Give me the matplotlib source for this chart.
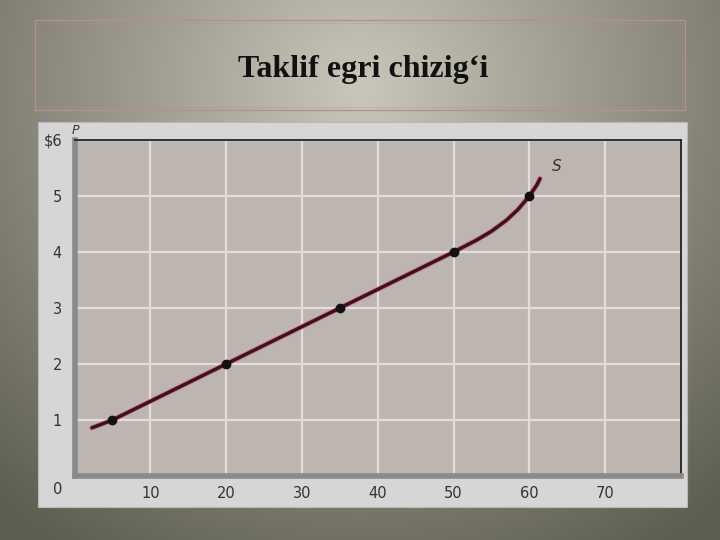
import numpy as np
import matplotlib.pyplot as plt
from matplotlib.patches import Rectangle
import matplotlib.patheffects as pe

# Taklif egri chizig'i - ma'lumotlar (rasmdan o'qilgan)
curve_q = [2.3, 5, 20, 35, 50, 53, 55, 57, 58.5, 60, 61, 61.4]
curve_p = [0.86, 1, 2, 3, 4, 4.21, 4.37, 4.57, 4.76, 5, 5.2, 5.31]
point_q = [5, 20, 35, 50, 60]
point_p = [1, 2, 3, 4, 5]
x_ticks = [10, 20, 30, 40, 50, 60, 70]
y_ticks = [1, 2, 3, 4, 5, 6]
y_labels = ['1', '2', '3', '4', '5', '$6']

W, H = 720, 540
fig = plt.figure(figsize=(7.2, 5.4), dpi=100)

# fon: radial gradient
bg = fig.add_axes([0, 0, 1, 1])
yy, xx = np.mgrid[0:H, 0:W]
r = np.sqrt(((xx - 360) / 540.0) ** 2 + ((yy - 90) / 540.0) ** 2)
r = np.clip(r, 0, 1)
light = np.array([0.79, 0.78, 0.73])
dark = np.array([0.37, 0.37, 0.32])
img = light[None, None, :] * (1 - r[..., None]) + dark[None, None, :] * r[..., None]
bg.imshow(img, extent=[0, W, H, 0], aspect='auto')
bg.set_xlim(0, W)
bg.set_ylim(H, 0)
bg.axis('off')

# sarlavha ramkasi
bg.add_patch(Rectangle((35, 20), 650, 90, fill=False, edgecolor='#b3928a', lw=1.0))
bg.add_patch(Rectangle((38, 23), 644, 84, fill=False, edgecolor='#b3928a', lw=0.6, alpha=0.4))
bg.text(363, 70, 'Taklif egri chizig\u2018i', ha='center', va='center',
        fontsize=23, fontweight='bold', family='Liberation Serif', color='#111111')

# grafik paneli
bg.add_patch(Rectangle((38, 122), 649, 385, facecolor='#d6d6d6', edgecolor='#b8b8b8', lw=0.8))

ax = fig.add_axes([74.5 / W, 1 - 476 / H, 606.5 / W, 336 / H])
ax.set_facecolor('#bdb6b0')
ax.set_xlim(0, 80)
ax.set_ylim(0, 6)

ax.set_xticks(x_ticks)
ax.set_yticks(y_ticks)
ax.set_yticklabels(y_labels)
ax.tick_params(length=0, labelsize=10.5, labelcolor='#333333')
ax.tick_params(axis='x', pad=7)
ax.tick_params(axis='y', pad=9)
ax.grid(True, color='#e2ddd8', lw=1.6)
ax.set_axisbelow(True)

ax.spines['left'].set_color('#8a8a8a')
ax.spines['left'].set_linewidth(4)
ax.spines['bottom'].set_color('#8a8a8a')
ax.spines['bottom'].set_linewidth(4)
ax.spines['top'].set_color('#222222')
ax.spines['top'].set_linewidth(1.3)
ax.spines['right'].set_color('#222222')
ax.spines['right'].set_linewidth(1.3)

ax.plot(curve_q, curve_p, color='#4a0a1e', lw=2.4, solid_capstyle='round',
        path_effects=[pe.Stroke(linewidth=3.6, foreground='#a2506a', alpha=0.6), pe.Normal()])
ax.plot(point_q, point_p, 'o', color='#111111', ms=6)

ax.text(63.6, 5.53, 'S', fontsize=11, style='italic', color='#333333', ha='center', va='center')
ax.text(-2.2, -0.25, '0', fontsize=10.5, color='#333333', ha='center', va='center')
ax.text(0.1, 6.05, 'P', fontsize=9, style='italic', color='#333333', ha='center', va='bottom')

fig.savefig('out.png', dpi=100)
